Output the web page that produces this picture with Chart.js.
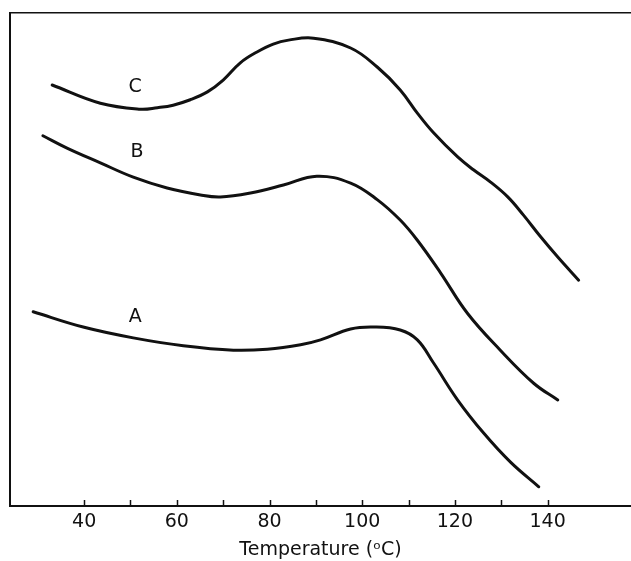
<!DOCTYPE html>
<html>
<head>
<meta charset="utf-8">
<script src="https://cdn.jsdelivr.net/npm/chart.js@4"></script>
<style>
  html, body { margin: 0; padding: 0; background: #fff; }
  #wrap { width: 631px; height: 561px; }
</style>
</head>
<body>
<div id="wrap"><canvas id="dsc"></canvas></div>
<script>
// Curves read as (temperature, signal) pairs; signal in arbitrary units 0-100
const tempA = [29.0, 39.8, 50.6, 61.4, 72.2, 79.5, 86.7, 91.0, 97.5, 102.4, 108.2, 111.9, 115.4, 120.6, 126.2, 132.0, 138.1];
const sigA  = [39.4, 36.3, 34.1, 32.5, 31.6, 31.8, 32.7, 33.7, 35.9, 36.3, 35.7, 33.7, 29.0, 21.5, 14.8, 8.9, 3.9];

const tempB = [31.1, 36.3, 43.5, 50.6, 57.9, 65.1, 69.4, 75.9, 83.0, 90.2, 97.5, 103.3, 108.2, 111.9, 116.9, 122.7, 129.8, 137.0, 142.2];
const sigB  = [75.1, 72.6, 69.6, 66.7, 64.5, 63.1, 62.7, 63.5, 65.1, 66.9, 65.5, 62.1, 58.0, 53.9, 47.3, 39.1, 31.6, 24.9, 21.5];

const tempC = [33.1, 43.5, 52.1, 55.8, 59.2, 62.9, 66.6, 70.0, 73.7, 77.3, 80.8, 84.1, 89.5, 97.5, 103.3, 108.2, 111.9, 115.4, 120.6, 124.0, 127.7, 131.4, 134.8, 138.5, 142.2, 146.7];
const sigC  = [85.4, 81.7, 80.5, 80.8, 81.3, 82.4, 84.0, 86.4, 89.9, 92.1, 93.7, 94.5, 94.9, 92.9, 89.0, 84.4, 79.7, 75.7, 70.8, 68.2, 65.7, 62.7, 59.0, 54.6, 50.5, 45.8];

// curve labels: name, temperature, signal
const curveNames = ['A', 'B', 'C'];
const labelTemp  = [51.0, 51.4, 51.0];
const labelSig   = [38.3, 71.8, 85.0];

const xTicks = [40, 50, 60, 70, 80, 90, 100, 110, 120, 130, 140];
const xTitle = 'Temperature (\u1D52C)';

const FONT = '"DejaVu Sans", sans-serif';
const INK = '#111';

function pts(xs, ys) {
  return xs.map((x, i) => ({ x: x, y: ys[i] }));
}

function curve(xs, ys) {
  return {
    data: pts(xs, ys),
    borderColor: INK,
    borderWidth: 3,
    pointRadius: 0,
    fill: false,
    tension: 0.4,
    borderCapStyle: 'round',
    borderJoinStyle: 'round'
  };
}

// small inward tick marks on the temperature axis + curve letters
const decorations = {
  id: 'decorations',
  afterDraw(chart) {
    const ctx = chart.ctx;
    const xs = chart.scales.x;
    const ys = chart.scales.y;
    const bottom = chart.chartArea.bottom;
    ctx.save();
    ctx.strokeStyle = INK;
    ctx.lineWidth = 1.5;
    xs.ticks.forEach(t => {
      const px = Math.round(xs.getPixelForValue(t.value)) + 0.5;
      ctx.beginPath();
      ctx.moveTo(px, bottom);
      ctx.lineTo(px, bottom - 6);
      ctx.stroke();
    });
    ctx.fillStyle = INK;
    ctx.font = '19px ' + FONT;
    ctx.textAlign = 'center';
    ctx.textBaseline = 'middle';
    curveNames.forEach((n, i) => {
      ctx.fillText(n, xs.getPixelForValue(labelTemp[i]), ys.getPixelForValue(labelSig[i]));
    });
    ctx.restore();
  }
};

new Chart(document.getElementById('dsc'), {
  type: 'line',
  data: {
    datasets: [curve(tempA, sigA), curve(tempB, sigB), curve(tempC, sigC)]
  },
  options: {
    responsive: true,
    maintainAspectRatio: false,
    animation: false,
    layout: { padding: { left: 10, top: 13, right: 0, bottom: 0 } },
    plugins: {
      legend: { display: false },
      tooltip: { enabled: false }
    },
    scales: {
      x: {
        type: 'linear',
        position: 'bottom',
        min: 24,
        max: 158,
        afterBuildTicks: s => { s.ticks = xTicks.map(v => ({ value: v })); },
        afterFit: s => { s.height = 55; },
        grid: { display: false, drawTicks: false },
        border: { display: true, color: INK, width: 2 },
        ticks: {
          color: INK,
          padding: 5,
          maxRotation: 0,
          autoSkip: false,
          font: { family: FONT, size: 19 },
          callback: v => (v % 20 === 0 ? String(v) : '')
        },
        title: {
          display: true,
          text: xTitle,
          color: INK,
          padding: { top: 0, bottom: 0 },
          font: { family: FONT, size: 19 }
        }
      },
      xTop: {
        type: 'linear',
        position: 'top',
        afterFit: s => { s.height = 0; },
        grid: { display: false, drawTicks: false },
        border: { display: true, color: INK, width: 1.5 },
        ticks: { display: false }
      },
      y: {
        type: 'linear',
        position: 'left',
        min: 0,
        max: 100,
        afterFit: s => { s.width = 0; },
        grid: { display: false, drawTicks: false },
        border: { display: true, color: INK, width: 2 },
        ticks: { display: false }
      }
    }
  },
  plugins: [decorations]
});
</script>
</body>
</html>
